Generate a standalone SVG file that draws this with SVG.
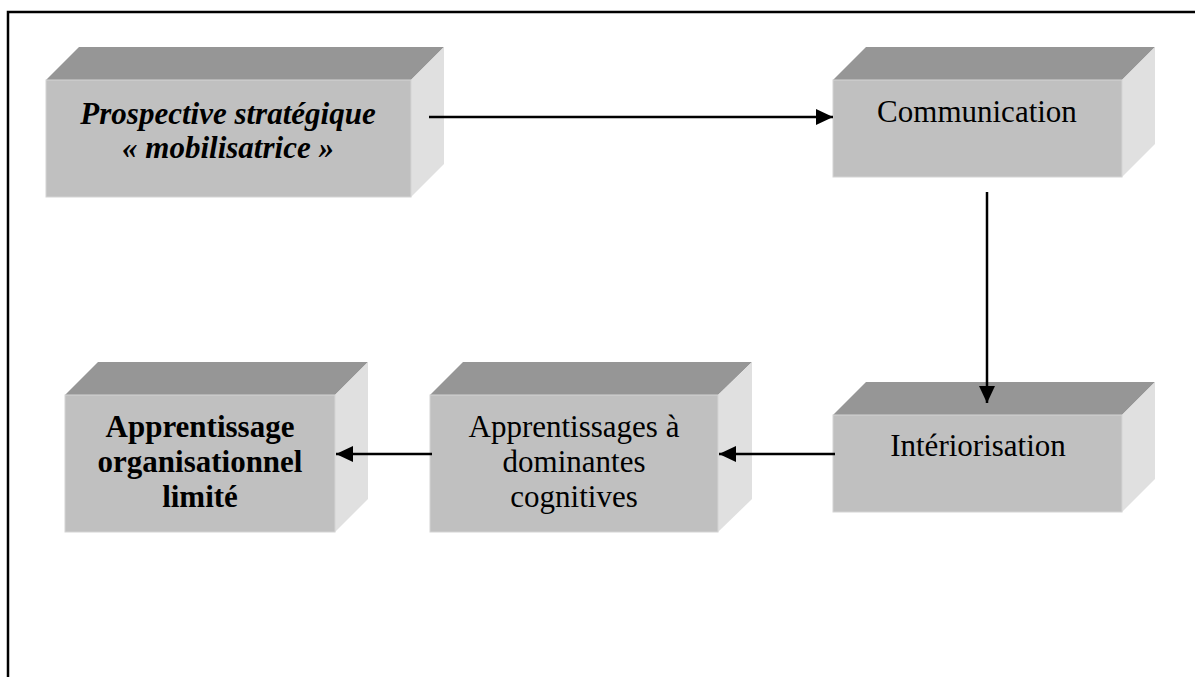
<svg xmlns="http://www.w3.org/2000/svg" width="1195" height="677" viewBox="0 0 1195 677">
<style>
.front{fill:#c0c0c0;stroke:#d4d4d4;stroke-width:1}
.top{fill:#969696}
.side{fill:#e0e0e0}
.t{font-family:"Liberation Serif","Times New Roman",serif;font-size:31px;fill:#000;text-anchor:middle}
.bi{font-weight:bold;font-style:italic}
.b{font-weight:bold}
.c{stroke:#000;stroke-width:2.5;fill:none}
</style>
<defs>
<marker id="ah" markerWidth="17" markerHeight="16" refX="17" refY="8" orient="auto" markerUnits="userSpaceOnUse">
<path d="M0,0 L17,8 L0,16 Z" fill="#000"/>
</marker>
</defs>
<rect width="1195" height="677" fill="#fff"/>
<g id="frame">
<path d="M8,677 L8,12 L1195,12" fill="none" stroke="#000" stroke-width="2.5"/>
</g>
<g id="node1">
<polygon class="top" points="46,80 79,47 444,47 411,80"/>
<polygon class="side" points="411,80 444,47 444,164 411,197"/>
<rect class="front" x="46" y="80" width="365" height="117"/>
<text class="t bi" x="228" y="124">Prospective stratégique</text>
<text class="t bi" x="228" y="158">« mobilisatrice »</text>
</g>
<g id="node2">
<polygon class="top" points="833,80 866,47 1155,47 1122,80"/>
<polygon class="side" points="1122,80 1155,47 1155,144 1122,177"/>
<rect class="front" x="833" y="80" width="289" height="97"/>
<text class="t" x="977" y="122">Communication</text>
</g>
<g id="node3">
<polygon class="top" points="833,415 866,382 1155,382 1122,415"/>
<polygon class="side" points="1122,415 1155,382 1155,479 1122,512"/>
<rect class="front" x="833" y="415" width="289" height="97"/>
<text class="t" x="978" y="456">Intériorisation</text>
</g>
<g id="node4">
<polygon class="top" points="430,395 463,362 752,362 718,395"/>
<polygon class="side" points="718,395 752,362 752,499 718,532"/>
<rect class="front" x="430" y="395" width="288" height="137"/>
<text class="t" x="574" y="437">Apprentissages à</text>
<text class="t" x="574" y="472">dominantes</text>
<text class="t" x="574" y="507">cognitives</text>
</g>
<g id="node5">
<polygon class="top" points="65,395 98,362 368,362 335,395"/>
<polygon class="side" points="335,395 368,362 368,499 335,532"/>
<rect class="front" x="65" y="395" width="270" height="137"/>
<text class="t b" x="200" y="437">Apprentissage</text>
<text class="t b" x="200" y="472">organisationnel</text>
<text class="t b" x="200" y="507">limité</text>
</g>
<g id="connectors">
<line class="c" x1="429" y1="117" x2="833" y2="117" marker-end="url(#ah)"/>
<line class="c" x1="987" y1="192" x2="987" y2="403" marker-end="url(#ah)"/>
<line class="c" x1="835" y1="454" x2="719" y2="454" marker-end="url(#ah)"/>
<line class="c" x1="432" y1="454" x2="336" y2="454" marker-end="url(#ah)"/>
</g>
</svg>
